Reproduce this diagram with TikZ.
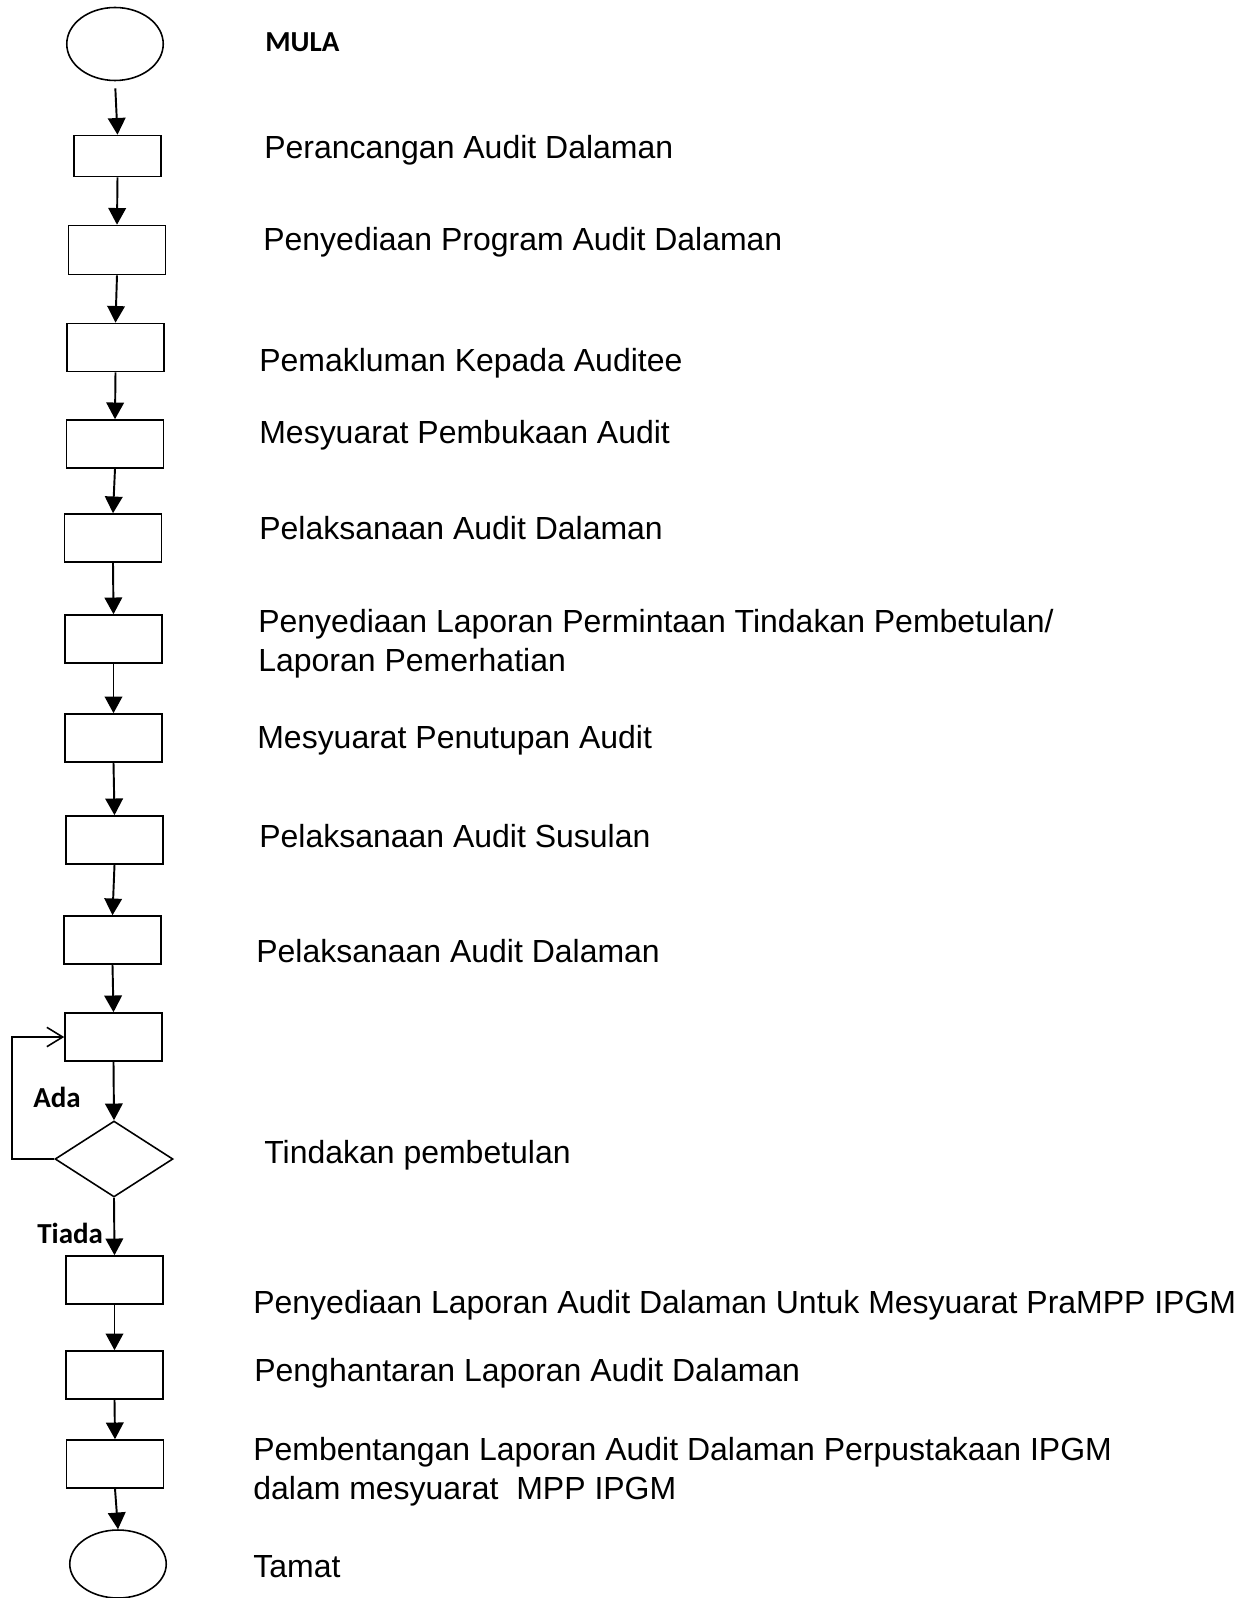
\documentclass[tikz,border=0pt]{standalone}
\usepackage{fontspec}
\setmainfont{Liberation Sans}
\newfontfamily\lblfont{Carlito}
\usetikzlibrary{arrows.meta, positioning, shapes.geometric}

\begin{document}
\begin{tikzpicture}[x=0.02cm,y=-0.02cm,
    proc/.style={draw,line width=0.9pt,minimum width=1.94cm,minimum height=0.96cm,inner sep=0pt},
    term/.style={draw,line width=0.9pt,ellipse,minimum width=1.93cm,inner sep=0pt},
    decide/.style={draw,line width=0.9pt,diamond,minimum width=2.36cm,minimum height=1.52cm,inner sep=0pt},
    flow/.style={-{Triangle[length=9.5pt,width=10pt]},line width=1.1pt},
    txt/.style={anchor=base west,inner sep=0pt,font=\fontsize{18.2}{21}\selectfont},
    lbl/.style={anchor=base west,inner sep=0pt,font=\lblfont\bfseries\fontsize{16.5}{19}\selectfont}]
  \useasboundingbox (0,0) rectangle (1249,1598);
  % Start
  \node[term,minimum height=1.46cm] (start) at (115,44) {};
  \node[lbl] (mula) at (265,52) {MULA};
  % Steps
  \node[proc,minimum width=1.74cm,minimum height=0.82cm] (b1) at (117.5,156) {};
  \node[proc,minimum height=0.98cm] (b2) at (117,250) {};
  \node[proc] (b3) at (115.5,347.5) {};
  \node[proc] (b4) at (115,444) {};
  \node[proc] (b5) at (113,538) {};
  \node[proc] (b6) at (113.5,639) {};
  \node[proc] (b7) at (113.5,738) {};
  \node[proc] (b8) at (114.5,840) {};
  \node[proc] (b9) at (112.5,940) {};
  \node[proc] (b10) at (113.5,1037) {};
  \node[decide] (dec) at (114,1159) {};
  \node[proc] (b11) at (114.5,1280) {};
  \node[proc] (b12) at (114.5,1375) {};
  \node[proc] (b13) at (115,1464) {};
  % End
  \node[term,minimum height=1.36cm] (stop) at (118,1564) {};
  % Texts
  \node[txt] (t1) at (264,159) {Perancangan Audit Dalaman};
  \node[txt] (t2) at (263,251) {Penyediaan Program Audit Dalaman};
  \node[txt] (t3) at (259,371) {Pemakluman Kepada Auditee};
  \node[txt] (t4) at (259,443) {Mesyuarat Pembukaan Audit};
  \node[txt] (t5) at (259,539) {Pelaksanaan Audit Dalaman};
  \node[txt,align=left,anchor=north west] (t6) at (258,609) {Penyediaan Laporan Permintaan Tindakan Pembetulan/\\[1pt]Laporan Pemerhatian};
  \node[txt] (t7) at (257,748) {Mesyuarat Penutupan Audit};
  \node[txt] (t8) at (259,847) {Pelaksanaan Audit Susulan};
  \node[txt] (t9) at (256,962) {Pelaksanaan Audit Dalaman};
  \node[txt] (t10) at (264,1163) {Tindakan pembetulan};
  \node[txt] (t11) at (253,1313) {Penyediaan Laporan Audit Dalaman Untuk Mesyuarat PraMPP IPGM};
  \node[txt] (t12) at (254,1381) {Penghantaran Laporan Audit Dalaman};
  \node[txt,align=left,anchor=north west] (t13) at (253,1437) {Pembentangan Laporan Audit Dalaman Perpustakaan IPGM\\[1pt]dalam mesyuarat\ \ MPP IPGM};
  \node[txt] (t14) at (253,1577) {Tamat};
  % Arrows
  \draw[flow,shorten <=4pt] (start.south) -- (b1.north);
  \draw[flow] (b1.south) -- (b2.north);
  \draw[flow] (b2.south) -- (b3.north);
  \draw[flow] (b3.south) -- (b4.north);
  \draw[flow] (b4.south) -- (b5.north);
  \draw[flow] (b5.south) -- (b6.north);
  \draw[flow] (b6.south) -- (b7.north);
  \draw[flow] (b7.south) -- (b8.north);
  \draw[flow] (b8.south) -- (b9.north);
  \draw[flow] (b9.south) -- (b10.north);
  \draw[flow] (b10.south) -- (dec.north);
  \draw[flow] (dec.south) -- (b11.north);
  \draw[flow] (b11.south) -- (b12.north);
  \draw[flow] (b12.south) -- (b13.north);
  \draw[flow] (b13.south) -- (stop.north);
  % Loop back
  \coordinate (loopc) at (12,1100);
  \draw[line width=0.9pt,-{Straight Barb[length=9pt,width=11pt]}] (dec.west) -| (loopc) |- (b10.west);
  \node[lbl] (ada) at (33,1107) {Ada};
  \node[lbl] (tiada) at (37,1243) {Tiada};
\end{tikzpicture}
\end{document}
